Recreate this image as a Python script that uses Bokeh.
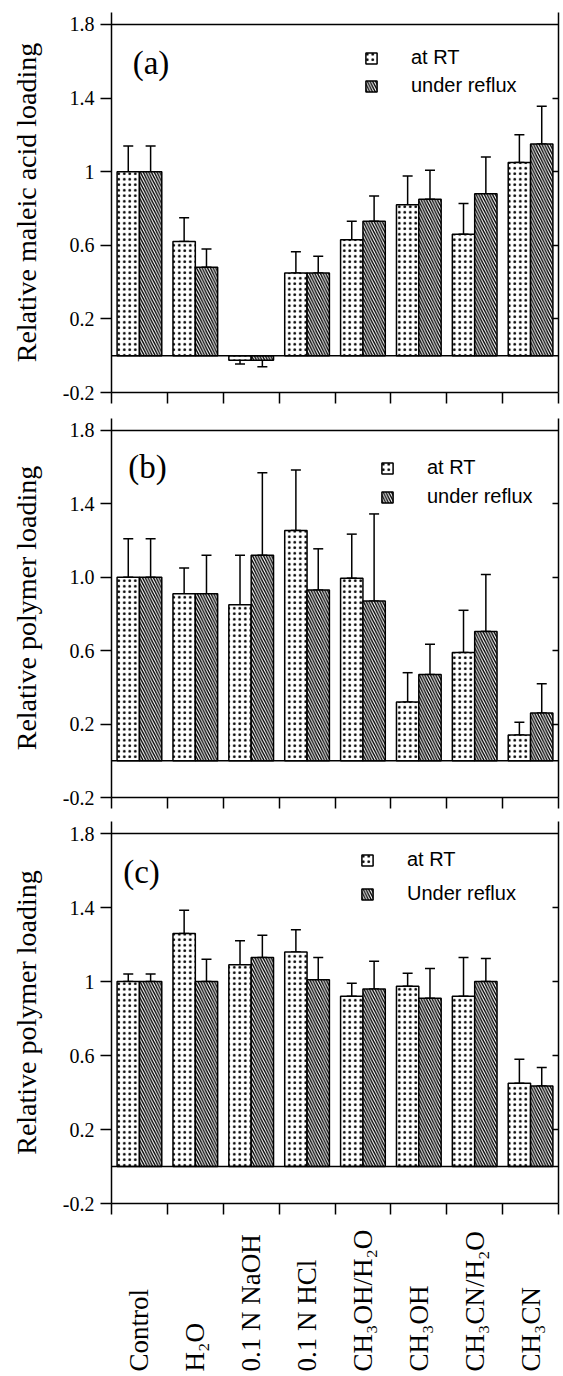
import math
from bokeh.plotting import figure
from bokeh.models import (Range1d, FixedTicker, LinearAxis, Span, Label, Legend,
                          LegendItem, Whisker, TeeHead, ColumnDataSource)
from bokeh.layouts import column
from bokeh.embed import file_html
from bokeh.resources import INLINE
from bokeh.core.properties import value

# ---------------- data ----------------
categories = ["Control", "H\u2082O", "0.1 N NaOH", "0.1 N HCl",
              "CH\u2083OH/H\u2082O", "CH\u2083OH", "CH\u2083CN/H\u2082O", "CH\u2083CN"]

# (a) relative maleic acid loading
a_rt = [1.00, 0.62, -0.025, 0.45, 0.63, 0.82, 0.66, 1.05]
a_rt_err = [0.14, 0.13, 0.02, 0.115, 0.10, 0.156, 0.167, 0.15]
a_rf = [1.00, 0.48, -0.025, 0.45, 0.73, 0.85, 0.88, 1.15]
a_rf_err = [0.14, 0.10, 0.035, 0.09, 0.138, 0.158, 0.20, 0.206]

# (b) relative polymer loading
b_rt = [1.00, 0.91, 0.85, 1.255, 0.995, 0.32, 0.59, 0.14]
b_rt_err = [0.21, 0.14, 0.27, 0.33, 0.24, 0.16, 0.23, 0.07]
b_rf = [1.00, 0.91, 1.12, 0.93, 0.87, 0.47, 0.705, 0.26]
b_rf_err = [0.21, 0.21, 0.45, 0.225, 0.475, 0.165, 0.31, 0.16]

# (c) relative polymer loading
c_rt = [1.00, 1.26, 1.09, 1.16, 0.92, 0.975, 0.92, 0.45]
c_rt_err = [0.04, 0.125, 0.13, 0.12, 0.07, 0.07, 0.21, 0.13]
c_rf = [1.00, 1.00, 1.13, 1.01, 0.96, 0.91, 1.00, 0.435]
c_rf_err = [0.04, 0.12, 0.12, 0.12, 0.15, 0.16, 0.125, 0.10]

y_ticks = [-0.2, 0.2, 0.6, 1.0, 1.4, 1.8]
tick_labels_ac = ["-0.2", "0.2", "0.6", "1", "1.4", "1.8"]
tick_labels_b = ["-0.2", "0.2", "0.6", "1.0", "1.4", "1.8"]
right_ticks = [0.2, 0.6, 1.0, 1.4]

SERIF = "Liberation Serif"
SANS = "Liberation Sans"
W = 561
LB = 111
RB = 3

n = len(categories)
xr = Range1d(0, n)
x_rt = [i + 0.3 for i in range(n)]
x_rf = [i + 0.7 for i in range(n)]


def err_bounds(vals, errs):
    lo, hi = [], []
    for v, e in zip(vals, errs):
        if v >= 0:
            lo.append(v); hi.append(v + e)
        else:
            lo.append(v - e); hi.append(v)
    return lo, hi


def make_panel(rt, rt_err, rf, rf_err, ylabel, tlabels, letter, letter_xy,
               leg_labels, leg_loc, leg_spacing, height, btop, bbot):
    p = figure(width=W, height=height, x_range=xr, y_range=Range1d(-0.2, 1.865),
               output_backend="svg", toolbar_location=None,
               x_axis_type=None, y_axis_type=None,
               min_border_left=LB, min_border_right=RB,
               min_border_top=btop, min_border_bottom=bbot)
    p.outline_line_color = None
    p.background_fill_color = "white"

    # left axis
    la = LinearAxis(ticker=FixedTicker(ticks=y_ticks), axis_label=ylabel)
    la.major_label_overrides = {t: s for t, s in zip(y_ticks, tlabels)}
    la.major_tick_out = 11
    la.major_tick_in = 0
    la.minor_tick_out = 0
    la.minor_tick_in = 0
    la.major_tick_line_width = 1.5
    la.axis_line_width = 1.5
    la.major_label_standoff = 6
    la.major_label_text_font = SERIF
    la.major_label_text_font_size = "20px"
    la.major_label_text_color = "black"
    la.axis_label_text_font = SERIF
    la.axis_label_text_font_size = "28px"
    la.axis_label_text_font_style = "normal"
    la.axis_label_text_color = "black"
    la.axis_label_standoff = 18
    p.add_layout(la, "left")

    # right axis (inward ticks, no labels)
    ra = LinearAxis(ticker=FixedTicker(ticks=right_ticks))
    ra.major_label_overrides = {t: "" for t in right_ticks}
    ra.major_label_text_font_size = "0px"
    ra.major_label_standoff = 0
    ra.major_tick_out = 0
    ra.major_tick_in = 6
    ra.minor_tick_out = 0
    ra.minor_tick_in = 0
    ra.major_tick_line_width = 1.5
    ra.axis_line_width = 1.5
    p.add_layout(ra, "right")

    # bottom axis (category boundaries)
    ba = LinearAxis(ticker=FixedTicker(ticks=list(range(n + 1))))
    ba.major_label_overrides = {i: "" for i in range(n + 1)}
    ba.major_label_text_font_size = "0px"
    ba.major_label_standoff = 0
    ba.major_tick_out = 11
    ba.major_tick_in = 0
    ba.minor_tick_out = 0
    ba.minor_tick_in = 0
    ba.major_tick_line_width = 1.5
    ba.axis_line_width = 1.5
    p.add_layout(ba, "below")

    p.add_layout(Span(location=1.8, dimension="width", line_color="black", line_width=1.5))
    p.add_layout(Span(location=0, dimension="width", line_color="black", line_width=1.5))

    r1 = p.vbar(x=x_rt, top=rt, bottom=0, width=0.4, fill_color="white",
                line_color="black", line_width=1.5, hatch_pattern=".",
                hatch_scale=5.5, hatch_weight=1.4, hatch_color="black")
    r2 = p.vbar(x=x_rf, top=rf, bottom=0, width=0.4, fill_color="white",
                line_color="black", line_width=1.5, hatch_pattern="\\",
                hatch_scale=5.5, hatch_weight=1.4, hatch_color="black")

    for xs, vals, errs in ((x_rt, rt, rt_err), (x_rf, rf, rf_err)):
        lo, hi = err_bounds(vals, errs)
        src = ColumnDataSource(dict(base=xs, lower=lo, upper=hi))
        w = Whisker(source=src, base="base", lower="lower", upper="upper",
                    line_color="black", line_width=1.5,
                    upper_head=TeeHead(size=10, line_width=1.5, line_color="black"),
                    lower_head=TeeHead(size=10, line_width=1.5, line_color="black"))
        p.add_layout(w)

    p.add_layout(Label(x=letter_xy[0], y=letter_xy[1], text=letter,
                       text_font=SERIF, text_font_size="33px",
                       text_baseline="middle", text_color="black"))

    leg = Legend(items=[LegendItem(label=leg_labels[0], renderers=[r1]),
                        LegendItem(label=leg_labels[1], renderers=[r2])],
                 location=leg_loc)
    leg.border_line_color = None
    leg.background_fill_alpha = 0
    leg.padding = 0
    leg.margin = 0
    leg.spacing = leg_spacing
    leg.glyph_width = 14
    leg.glyph_height = 14
    leg.label_standoff = 33
    leg.label_height = 20
    leg.label_text_font = SANS
    leg.label_text_font_size = "20px"
    leg.label_text_color = "black"
    leg.label_text_baseline = "middle"
    p.add_layout(leg)
    return p


pa = make_panel(a_rt, a_rt_err, a_rf, a_rf_err, "Relative maleic acid loading",
                tick_labels_ac, "(a)", (0.38, 1.59), ["at RT", "under reflux"],
                (253, 295), 5, 418, 12, 26)
pb = make_panel(b_rt, b_rt_err, b_rf, b_rf_err, "Relative polymer loading",
                tick_labels_b, "(b)", (0.30, 1.60), ["at RT", "under reflux"],
                (269, 289), 6, 403, 0, 24)
pc = make_panel(c_rt, c_rt_err, c_rf, c_rf_err, "Relative polymer loading",
                tick_labels_ac, "(c)", (0.21, 1.59), ["at RT", "Under reflux"],
                (249, 298), 11, 396, 0, 14)

# category labels beneath panel (c)
pd_ = figure(width=W, height=157, x_range=xr, y_range=Range1d(-3, 154),
             output_backend="svg", toolbar_location=None,
             x_axis_type=None, y_axis_type=None,
             min_border_left=LB, min_border_right=RB, min_border_top=0, min_border_bottom=0)
pd_.outline_line_color = None
pd_.text(x=[i + 0.5 for i in range(n)], y=[0] * n, text=categories,
         angle=math.pi / 2, text_align="left", text_baseline="middle",
         text_font=value(SERIF), text_font_size="27px", text_color="black")

layout = column(pa, pb, pc, pd_, spacing=0)
open("out.html", "w").write(file_html(layout, INLINE))
